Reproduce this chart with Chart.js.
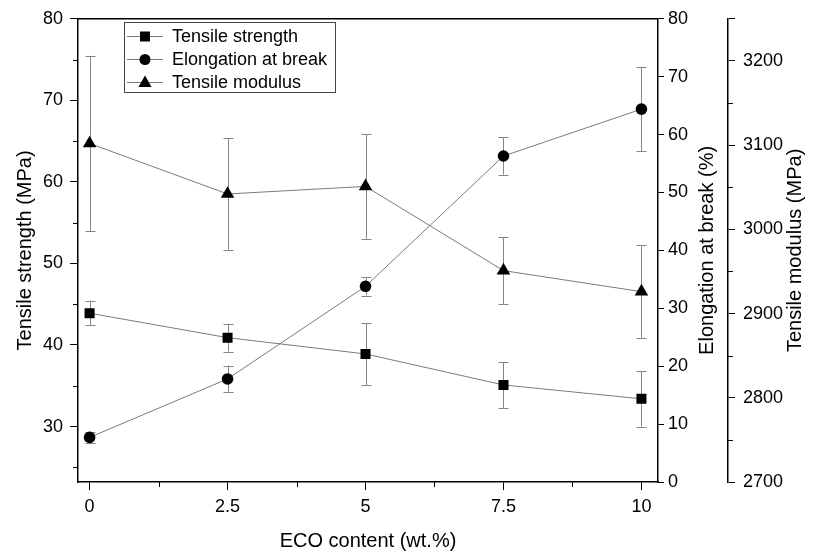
<!DOCTYPE html>
<html><head><meta charset="utf-8">
<script src="https://cdn.jsdelivr.net/npm/chart.js@4.4.1/dist/chart.umd.min.js"></script>
<style>html,body{margin:0;padding:0;background:#fff;} #wrap{width:815px;height:556px;}</style>
</head><body><div id="wrap"><canvas id="c" width="815" height="556"></canvas></div>
<script>
// ---- data ----
const ecoContent = [0, 2.5, 5, 7.5, 10];
const tensileStrength = [43.9, 40.9, 38.9, 35.1, 33.4];
const tensileStrengthErr = [1.5, 1.7, 3.8, 2.8, 3.4];
const elongation = [7.7, 17.8, 33.8, 56.3, 64.4];
const elongationErr = [1.0, 2.3, 1.6, 3.2, 7.3];
const tensileModulus = [3102, 3042, 3051, 2951, 2926];
const tensileModulusErr = [104, 66, 62, 40, 55];

const xTicks = [0, 2.5, 5, 7.5, 10];
const xMinorTicks = [1.25, 3.75, 6.25, 8.75];
const strengthTicks = [30, 40, 50, 60, 70, 80];
const strengthMinorTicks = [25, 35, 45, 55, 65, 75];
const elongationTicks = [0, 10, 20, 30, 40, 50, 60, 70, 80];
const modulusTicks = [2700, 2800, 2900, 3000, 3100, 3200, 3250];
const modulusMinorTicks = [2750, 2850, 2950, 3050, 3150];

const seriesNames = ['Tensile strength', 'Elongation at break', 'Tensile modulus'];
const axisTitles = ['ECO content (wt.%)', 'Tensile strength (MPa)', 'Elongation at break (%)', 'Tensile modulus (MPa)'];

// ---- setup ----
const FONT = '"Liberation Sans", Arial, sans-serif';
Chart.defaults.font.family = FONT;
Chart.defaults.color = '#000';

const toPts = (vals) => vals.map((v, i) => ({x: ecoContent[i], y: v}));
const errs = [tensileStrengthErr, elongationErr, tensileModulusErr];

function setTicks(list) { return (s) => { s.ticks = list.map(v => ({value: v})); }; }

const errorBarPlugin = {
  id: 'errorBars',
  beforeDatasetsDraw(chart) {
    const {ctx, scales} = chart;
    ctx.save();
    ctx.strokeStyle = '#858585';
    ctx.lineWidth = 1;
    chart.data.datasets.forEach((ds, i) => {
      const ys = scales[ds.yAxisID];
      ds.data.forEach((p, j) => {
        const px = Math.round(scales.x.getPixelForValue(p.x)) + 0.5;
        const t = ys.getPixelForValue(p.y + errs[i][j]);
        const b = ys.getPixelForValue(p.y - errs[i][j]);
        ctx.beginPath();
        ctx.moveTo(px, t); ctx.lineTo(px, b);
        ctx.moveTo(px - 5, Math.round(t) + 0.5); ctx.lineTo(px + 5, Math.round(t) + 0.5);
        ctx.moveTo(px - 5, Math.round(b) + 0.5); ctx.lineTo(px + 5, Math.round(b) + 0.5);
        ctx.stroke();
      });
    });
    ctx.restore();
  }
};

function drawMarker(ctx, style, x, y) {
  ctx.beginPath();
  if (style === 'rect') { ctx.rect(x - 5, y - 5, 10, 10); }
  else if (style === 'circle') { ctx.arc(x, y, 5.5, 0, Math.PI * 2); }
  else { ctx.moveTo(x, y - 7); ctx.lineTo(x + 6.5, y + 4.5); ctx.lineTo(x - 6.5, y + 4.5); ctx.closePath(); }
  ctx.fill();
}

const decorPlugin = {
  id: 'decor',
  afterDraw(chart) {
    const {ctx, chartArea: ca, scales} = chart;
    ctx.save();
    ctx.strokeStyle = '#000';
    ctx.lineWidth = 1;
    ctx.beginPath();
    xMinorTicks.forEach(v => {
      const px = Math.round(scales.x.getPixelForValue(v)) + 0.5;
      ctx.moveTo(px, ca.bottom); ctx.lineTo(px, ca.bottom + 5);
    });
    strengthMinorTicks.forEach(v => {
      const py = Math.round(scales.y.getPixelForValue(v)) + 0.5;
      ctx.moveTo(ca.left, py); ctx.lineTo(ca.left - 5, py);
    });
    modulusMinorTicks.forEach(v => {
      const py = Math.round(scales.y2.getPixelForValue(v)) + 0.5;
      ctx.moveTo(scales.y2.left, py); ctx.lineTo(scales.y2.left + 5, py);
    });
    ctx.stroke();
    // top frame line
    ctx.lineWidth = 1.5;
    ctx.beginPath();
    ctx.moveTo(ca.left, ca.top); ctx.lineTo(ca.right, ca.top);
    ctx.stroke();

    // right-side axis titles (reading bottom to top)
    ctx.fillStyle = '#000';
    ctx.font = '20px ' + FONT;
    ctx.textAlign = 'center';
    ctx.textBaseline = 'middle';
    const cy = (ca.top + ca.bottom) / 2;
    [[axisTitles[2], 707], [axisTitles[3], 795]].forEach(([t, x]) => {
      ctx.save(); ctx.translate(x, cy); ctx.rotate(-Math.PI / 2); ctx.fillText(t, 0, 0); ctx.restore();
    });

    // legend
    const lx = 124.5, ly = 22.5, lw = 211, lh = 70;
    ctx.strokeStyle = '#444'; ctx.lineWidth = 1;
    ctx.strokeRect(lx, ly, lw, lh);
    const styles = ['rect', 'circle', 'triangle'];
    ctx.font = '18px ' + FONT;
    ctx.textAlign = 'left';
    seriesNames.forEach((n, i) => {
      const y = 36 + i * 23;
      ctx.strokeStyle = '#777';
      ctx.beginPath(); ctx.moveTo(127, y + 0.5); ctx.lineTo(163, y + 0.5); ctx.stroke();
      ctx.fillStyle = '#000';
      drawMarker(ctx, styles[i], 145, y + 0.5);
      ctx.fillText(n, 172, y + 1);
    });
    ctx.restore();
  }
};

const lineDs = (label, vals, axis, style, r) => ({
  label, data: toPts(vals), yAxisID: axis,
  borderColor: '#7a7a7a', borderWidth: 1,
  pointStyle: style, pointRadius: r, pointHoverRadius: r,
  pointBackgroundColor: '#000', pointBorderColor: '#000', pointBorderWidth: 0,
  fill: false, tension: 0
});

const axisCommon = (fitSize, horiz) => ({
  grid: {drawOnChartArea: false, color: '#000', tickColor: '#000', tickWidth: 1},
  border: {color: '#000', width: 1.5},
  afterFit: (s) => { if (horiz) s.height = fitSize; else s.width = fitSize; }
});

new Chart(document.getElementById('c'), {
  type: 'line',
  data: {
    datasets: [
      lineDs(seriesNames[0], tensileStrength, 'y', 'rect', 7.1),
      lineDs(seriesNames[1], elongation, 'y1', 'circle', 5.8),
      lineDs(seriesNames[2], tensileModulus, 'y2', 'triangle', 7.8)
    ]
  },
  options: {
    responsive: false, animation: false, devicePixelRatio: 1,
    layout: {padding: {top: 18, left: 0, right: 0, bottom: 0}},
    plugins: {legend: {display: false}, tooltip: {enabled: false}},
    scales: {
      x: Object.assign(axisCommon(74, true), {
        type: 'linear', position: 'bottom', min: -0.21, max: 10.3,
        afterBuildTicks: setTicks(xTicks),
        grid: {drawOnChartArea: false, color: '#000', tickColor: '#000', tickLength: 8},
        ticks: {font: {size: 18}, color: '#000', padding: 6, maxRotation: 0, callback: v => String(v)},
        title: {display: true, text: axisTitles[0], font: {size: 20}, color: '#000', padding: {top: 0, bottom: 3}}
      }),
      y: Object.assign(axisCommon(78, false), {
        position: 'left', min: 23.2, max: 80,
        afterBuildTicks: setTicks(strengthTicks),
        grid: {drawOnChartArea: false, color: '#000', tickColor: '#000', tickLength: 8},
        ticks: {font: {size: 18}, color: '#000', padding: 7},
        title: {display: true, text: axisTitles[1], font: {size: 20}, color: '#000', padding: {top: 13, bottom: 0}}
      }),
      y1: Object.assign(axisCommon(70, false), {
        position: 'right', min: 0, max: 80,
        afterBuildTicks: setTicks(elongationTicks),
        grid: {drawOnChartArea: false, color: '#000', tickColor: '#000', tickLength: 6},
        ticks: {font: {size: 18}, color: '#000', padding: 4}
      }),
      y2: Object.assign(axisCommon(87, false), {
        position: 'right', min: 2700, max: 3250,
        afterBuildTicks: setTicks(modulusTicks),
        grid: {drawOnChartArea: false, color: '#000', tickColor: '#000', tickLength: 7},
        ticks: {font: {size: 18}, color: '#000', padding: 8, callback: v => (v === 3250 ? '' : String(v))}
      })
    }
  },
  plugins: [errorBarPlugin, decorPlugin]
});
</script>
</body></html>
